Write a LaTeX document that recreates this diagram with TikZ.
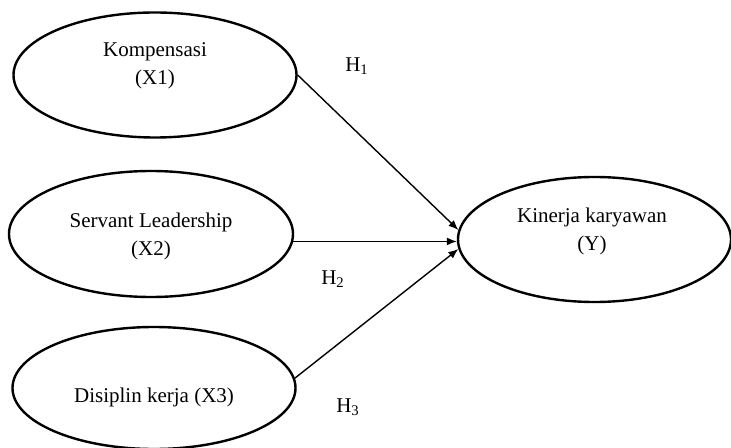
\documentclass[tikz,border=0pt]{standalone}
\usepackage{fontspec}
\setmainfont{Liberation Serif}
\usetikzlibrary{shapes.geometric,arrows.meta}
\tikzset{
    every node/.style={font=\fontsize{10.5}{14}\selectfont},
    var/.style={draw, ellipse, line width=1.2pt, inner sep=0pt},
    txt/.style={align=center, inner sep=1pt},
    hyp/.style={-{Latex[length=5pt,width=4pt]}, line width=0.7pt}
}
\begin{document}
\begin{tikzpicture}[x=0.5pt,y=-0.5pt]
\useasboundingbox (0,0) rectangle (731,448);

\node[var, minimum width=141.5pt, minimum height=62.5pt] at (155,75) (x1) {};
\node[txt] at (155,66) (t1) {Kompensasi\\(X1)};

\node[var, minimum width=142pt, minimum height=63pt] at (151,234) (x2) {};
\node[txt] at (151,236) (t2) {Servant Leadership\\(X2)};

\node[var, minimum width=141.5pt, minimum height=61pt] at (154,388) (x3) {};
\node[txt] at (154,397) (t3) {Disiplin kerja (X3)};

\node[var, minimum width=136.5pt, minimum height=62.5pt] at (594.5,239.5) (y) {};
\node[txt] at (592,231) (ty) {Kinerja karyawan\\(Y)};

\draw[hyp] (x1.east) -- (y.176);
\draw[hyp] (x2.-3) -- (x2.-3 -| y.west);
\draw[hyp] (x3.4) -- (y.184);

\node[txt] at (357,66) (h1) {H\textsubscript{1}};
\node[txt] at (333,279) (h2) {H\textsubscript{2}};
\node[txt] at (348,407) (h3) {H\textsubscript{3}};
\end{tikzpicture}
\end{document}
